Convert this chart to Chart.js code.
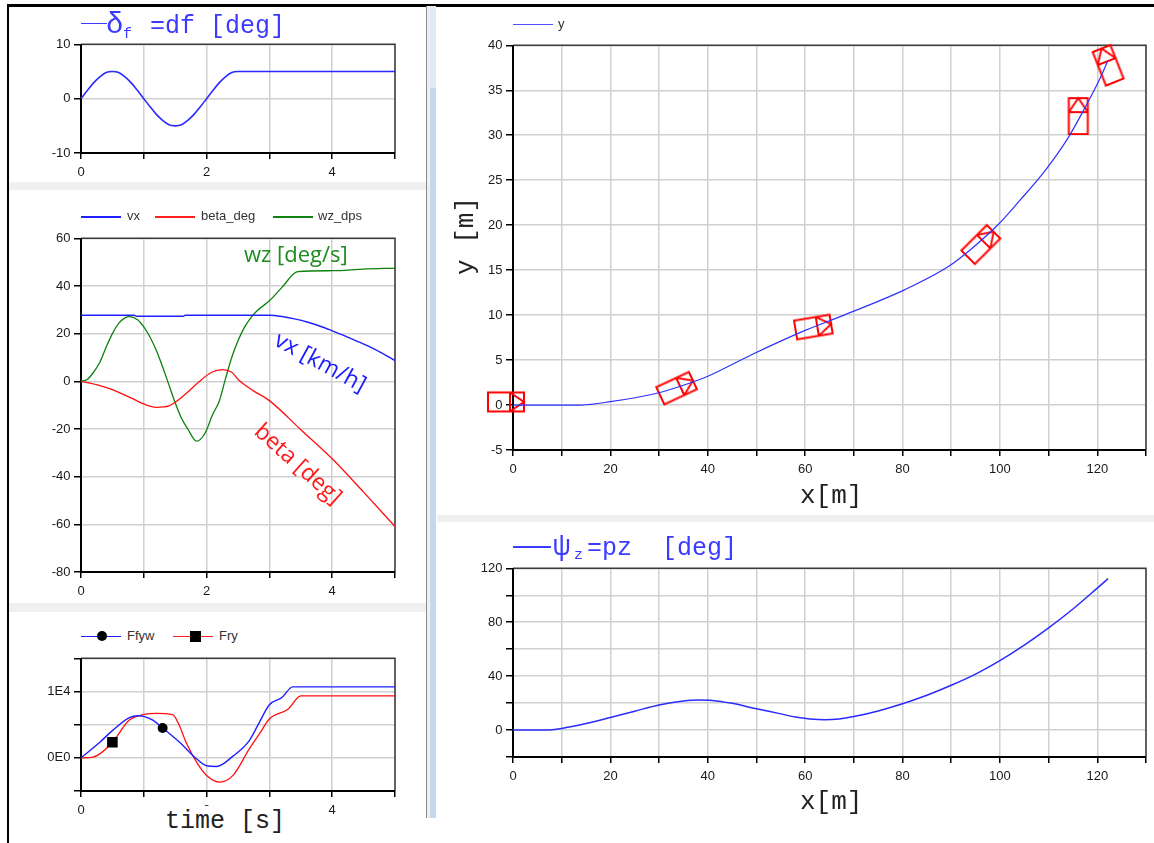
<!DOCTYPE html>
<html><head><meta charset="utf-8">
<script src="https://cdn.jsdelivr.net/npm/chart.js@4.4.1/dist/chart.umd.min.js"></script>
<style>
html,body{margin:0;padding:0;background:#fff;}
body{width:1154px;height:843px;overflow:hidden;position:relative;font-family:"Liberation Sans",Arial,sans-serif;}
.a{position:absolute;}
canvas{position:absolute;z-index:1;}
.t{position:absolute;z-index:2;white-space:pre;}
.mono{font-family:"Liberation Mono","Courier New",monospace;}
.lg{font-size:13px;line-height:15px;color:#333;}
.ann{font-family:"Open Sans",sans-serif;line-height:1;transform-origin:center;}
.ln{position:absolute;z-index:2;height:1.6px;}
</style></head><body>
<div class="a" style="left:7px;top:4px;width:2px;height:839px;background:#000"></div>
<div class="a" style="left:7px;top:4px;width:1147px;height:2.5px;background:#000"></div>
<div class="a" style="left:9px;top:182px;width:417px;height:8px;background:#f0f0f0"></div>
<div class="a" style="left:9px;top:603px;width:417px;height:9px;background:#f0f0f0"></div>
<div class="a" style="left:426px;top:6px;width:1px;height:812px;background:#8a8a8a"></div>
<div class="a" style="left:427px;top:6px;width:3px;height:812px;background:#f0f0f0"></div>
<div class="a" style="left:430px;top:6px;width:6px;height:812px;background:#c4d8ef"></div>
<div class="a" style="left:430px;top:6px;width:6px;height:82px;background:#dfeaf6"></div>
<div class="a" style="left:437px;top:515px;width:717px;height:7px;background:#f0f0f0"></div>

<canvas id="c1"></canvas>
<canvas id="c2"></canvas>
<canvas id="c3"></canvas>
<canvas id="c4"></canvas>
<canvas id="c5"></canvas>

<!-- panel 1 title -->
<div class="ln" style="left:81px;top:22.5px;width:26px;background:#3b3bff"></div>
<div class="t mono" style="left:106px;top:10.8px;font-size:29px;line-height:29px;color:#3b3bff">δ</div>
<div class="t mono" style="left:123px;top:26.5px;font-size:15px;line-height:15px;color:#3b3bff">f</div>
<div class="t mono" style="left:150px;top:14px;font-size:25px;line-height:25px;color:#3b3bff">=df [deg]</div>

<!-- panel 2 legend -->
<div class="ln" style="left:81px;top:216px;width:40px;background:#2020ff"></div>
<div class="t lg" style="left:127px;top:208px">vx</div>
<div class="ln" style="left:155px;top:216px;width:40px;background:#ff2020"></div>
<div class="t lg" style="left:201px;top:208px">beta_deg</div>
<div class="ln" style="left:273px;top:216px;width:40px;background:#108010"></div>
<div class="t lg" style="left:318px;top:208px">wz_dps</div>
<div class="t ann" style="left:244px;top:242px;font-size:22px;color:#1e8c1e">wz [deg/s]</div>
<div class="t ann" style="left:321px;top:361px;font-size:23px;color:#1a1aff;transform:translate(-50%,-50%) rotate(28.6deg)">vx [km/h]</div>
<div class="t ann" style="left:299px;top:463px;font-size:23px;color:#ff1a1a;transform:translate(-50%,-50%) rotate(41.8deg)">beta [deg]</div>

<!-- panel 3 legend -->
<div class="ln" style="left:81px;top:635.5px;width:40px;background:#2020ff"></div>
<div class="a" style="z-index:3;left:96.7px;top:631px;width:10px;height:10px;border-radius:50%;background:#000"></div>
<div class="t lg" style="left:127px;top:628px">Ffyw</div>
<div class="ln" style="left:173px;top:635.5px;width:40px;background:#ff2020"></div>
<div class="a" style="z-index:3;left:190px;top:631px;width:10.5px;height:10.5px;background:#000"></div>
<div class="t lg" style="left:219px;top:628px">Fry</div>
<div class="t mono" style="left:160px;top:806px;padding:2.5px 5px 0 5px;height:30px;background:#fff;font-size:25px;line-height:25px;color:#222">time [s]</div>

<!-- right top -->
<div class="ln" style="left:513px;top:23.5px;width:40px;background:#5050ff"></div>
<div class="t lg" style="left:558px;top:16px">y</div>
<div class="t mono" style="left:800px;top:483px;font-size:26px;line-height:26px;color:#222">x[m]</div>
<div class="t mono" style="left:466px;top:236px;font-size:26px;line-height:26px;color:#222;transform:translate(-50%,-50%) rotate(-90deg)">y [m]</div>

<!-- right bottom -->
<div class="ln" style="left:513px;top:546px;width:38px;background:#3b3bff"></div>
<div class="t mono" style="left:553px;top:532.8px;font-size:29px;line-height:29px;color:#3b3bff">ψ</div>
<div class="t mono" style="left:574px;top:548px;font-size:15px;line-height:15px;color:#3b3bff">z</div>
<div class="t mono" style="left:587px;top:536px;font-size:25px;line-height:25px;color:#3b3bff">=pz  [deg]</div>
<div class="t mono" style="left:800px;top:789px;font-size:26px;line-height:26px;color:#222">x[m]</div>

<script>
// ---------- data ----------
// steering angle delta_f [deg] vs time [s]
const dfT = [0,0.1,0.2,0.3,0.4,0.5,0.6,0.7,0.8,0.9,1.0,1.1,1.2,1.3,1.4,1.5,1.6,1.7,1.8,1.9,2.0,2.1,2.2,2.3,2.4,2.5,5.0];
const dfV = [0,1.5,2.9,4.0,4.8,5.0,4.8,4.0,2.9,1.5,0,-1.5,-2.9,-4.0,-4.8,-5.0,-4.8,-4.0,-2.9,-1.5,0,1.5,2.9,4.0,4.8,5.0,5.0];

// vx [km/h]
const vxT = [0,0.85,0.88,1.63,1.66,3.0,3.2,3.4,3.6,3.8,4.0,4.2,4.4,4.6,4.8,5.0];
const vxV = [27.7,27.7,27.3,27.3,27.7,27.7,27.2,26.2,24.9,23.2,21.2,19.1,16.8,14.4,11.7,8.7];
// beta [deg]
const betaT = [0,0.3,0.5,0.83,1.0,1.2,1.4,1.5,1.7,1.87,2.08,2.25,2.4,2.52,2.74,3.0,3.5,4.0,4.5,5.0];
const betaV = [0,-1.8,-3.5,-7.4,-9.5,-10.9,-10.3,-8.8,-4.5,-0.4,3.8,4.9,3.8,0.3,-3.9,-8.1,-20.3,-32.5,-46.5,-60.9];
// wz [deg/s]
const wzT = [0,0.1,0.2,0.3,0.4,0.5,0.6,0.7,0.77,0.9,1.0,1.1,1.2,1.3,1.4,1.5,1.6,1.7,1.84,1.97,2.1,2.2,2.3,2.4,2.5,2.6,2.7,2.8,3.0,3.2,3.45,4.0,4.5,5.0];
const wzV = [0,0.8,3.8,8.0,14.3,20.0,24.3,26.6,27.1,25.8,22.8,18.5,12.9,6.0,-1.5,-9.0,-15.5,-20.0,-25.1,-22.0,-13.7,-8.5,1.0,10.0,17.0,22.5,26.5,29.5,33.8,39.4,46.0,46.4,47.1,47.5];

// tyre forces
const ffywT = [0,0.3,0.5,0.77,0.9,1.0,1.15,1.3,1.57,1.84,2.0,2.16,2.42,2.68,2.84,3.0,3.2,3.37,5.0];
const ffywV = [0,2350,4100,6050,6350,6250,5650,4500,2350,-150,-1200,-1300,250,2600,5350,8000,9100,10700,10700];
const fryT = [0,0.19,0.3,0.5,0.77,0.99,1.2,1.46,1.55,1.68,1.84,2.0,2.21,2.42,2.68,2.84,3.0,3.3,3.5,5.0];
const fryV = [0,100,600,2350,5700,6500,6700,6500,5200,2200,-650,-2650,-3650,-2650,1350,3600,5850,7350,9350,9350];
const FFYW_MARK = 7;   // index of the circle marker on Ffyw
const FRY_MARK = 3;    // index of the square marker on Fry

// trajectory y vs x [m]
const trajX = [0,14,20,30,35,40,49,60,68,80.6,89.4,94,99.7,104,109.2,114,117.4,120.1,122.2];
const trajY = [0,0,0.37,1.37,2.2,3.2,5.6,8.3,10,12.86,15.4,17.3,20.1,22.7,26.0,29.7,33.0,35.8,38.3];
// car snapshots (position [m], heading [deg])
const carX = [0,34.9,63.1,97.1,116.1,121.7];
const carY = [0.35,2.2,8.8,18.4,32.9,38.5];
const carHeading = [0,25,9.5,45,90,111.5];

// yaw angle psi [deg] vs x [m]
const psiX = [0,6.7,10,15,20,25,30,35,38,41,45,50,55,58,61,64,67,70,75,80,85,90,95,100,105,110,115,120,122.2];
const psiV = [0,0,1.2,4.8,9.3,14.0,18.6,21.5,22.3,22.0,19.8,15.8,12.0,9.6,8.2,7.6,8.2,10.0,14.2,19.5,25.8,33.2,41.5,51.5,63.0,75.8,89.8,105.3,112.3];

// ticks
const timeTicks = [0,1,2,3,4,5];
const timeLabels = ['0','','2','','4',''];
const dfYTicks = [-10,0,10];
const dfYLabels = ['-10','0','10'];
const motYTicks = [-80,-60,-40,-20,0,20,40,60];
const motYLabels = ['-80','-60','-40','-20','0','20','40','60'];
const forceYTicks = [-5000,0,5000,10000,15000];
const forceYLabels = ['','0E0','','1E4',''];
const posXTicks = [0,10,20,30,40,50,60,70,80,90,100,110,120,130];
const posXLabels = ['0','','20','','40','','60','','80','','100','','120',''];
const posYTicks = [-5,0,5,10,15,20,25,30,35,40];
const posYLabels = ['-5','0','5','10','15','20','25','30','35','40'];
const psiYTicks = [-20,0,20,40,60,80,100,120];
const psiYLabels = ['','0','','40','','80','','120'];

// ---------- helpers ----------
const pts = (xs, ys) => xs.map((x, i) => ({x, y: ys[i]}));
const GRID = '#d0d0d0';
const BLUE = '#2020ff', RED = '#ff1010', GREEN = '#0c820c';

const framePlugin = {
  id: 'frame',
  beforeDatasetsDraw(c) {
    const a = c.chartArea, g = c.ctx;
    g.save();
    g.lineWidth = 1.5; g.strokeStyle = '#3a3a3a';
    g.beginPath();
    g.moveTo(a.left, a.top); g.lineTo(a.right, a.top); g.lineTo(a.right, a.bottom);
    g.stroke();
    g.lineWidth = 2; g.strokeStyle = '#000';
    g.beginPath();
    g.moveTo(a.left, a.top); g.lineTo(a.left, a.bottom); g.lineTo(a.right, a.bottom);
    g.stroke();
    g.restore();
  }
};

function axis(ticks, labels, isX, fit) {
  return {
    type: 'linear',
    min: ticks[0], max: ticks[ticks.length - 1],
    afterBuildTicks: s => { s.ticks = ticks.map(v => ({value: v})); },
    afterFit: s => { if (isX) s.height = fit; else s.width = fit; },
    ticks: {autoSkip: false, maxRotation: 0, minRotation: 0, padding: isX ? 6 : 3.5,
            color: '#1a1a1a', font: {size: 13}, callback: (v, i) => labels[i]},
    grid: {color: GRID, lineWidth: 1.5, drawTicks: true, tickLength: isX ? 6 : 7,
           tickColor: '#000', tickWidth: 1.5},
    border: {display: false}
  };
}

function makeChart(id, plot, m, datasets, xt, xl, yt, yl) {
  const cv = document.getElementById(id);
  const L = plot[0] - m[0], T = plot[1] - m[1];
  const W = plot[2] + m[2] - L, H = plot[3] + m[3] - T;
  cv.width = W; cv.height = H;
  cv.style.left = L + 'px'; cv.style.top = T + 'px';
  cv.style.width = W + 'px'; cv.style.height = H + 'px';
  return new Chart(cv, {
    type: 'line',
    data: {datasets},
    options: {
      responsive: false, animation: false, devicePixelRatio: 1, events: [],
      layout: {padding: {left: 0, top: m[1], right: m[2], bottom: 0}},
      plugins: {legend: {display: false}, tooltip: {enabled: false}},
      elements: {point: {radius: 0}, line: {borderWidth: 1.3, cubicInterpolationMode: 'monotone'}},
      scales: {x: axis(xt, xl, true, m[3]), y: axis(yt, yl, false, m[0])}
    },
    plugins: [framePlugin]
  });
}

function carGlyph() {
  const c = document.createElement('canvas');
  c.width = 52; c.height = 24;
  const g = c.getContext('2d');
  g.strokeStyle = '#ff0000'; g.lineWidth = 2;
  const cx = 26, cy = 12;
  g.strokeRect(cx - 25, cy - 9.5, 36, 19);
  g.beginPath(); g.moveTo(cx - 3, cy - 9.5); g.lineTo(cx - 3, cy + 9.5); g.stroke();
  g.beginPath(); g.moveTo(cx - 3, cy - 9.5); g.lineTo(cx + 11, cy); g.lineTo(cx - 3, cy + 9.5); g.stroke();
  return c;
}

const M_LEFT = [70, 10, 12, 32];
const M_RIGHT = [70, 10, 4, 32];

makeChart('c1', [81, 43, 395, 153], M_LEFT,
  [{data: pts(dfT, dfV), borderColor: '#2b2bff', borderWidth: 1.6}],
  timeTicks, timeLabels, dfYTicks, dfYLabels);

makeChart('c2', [81, 237, 395, 572], M_LEFT,
  [{data: pts(vxT, vxV), borderColor: BLUE, borderWidth: 1.4},
   {data: pts(betaT, betaV), borderColor: RED, borderWidth: 1.3},
   {data: pts(wzT, wzV), borderColor: GREEN, borderWidth: 1.3}],
  timeTicks, timeLabels, motYTicks, motYLabels);

makeChart('c3', [81, 657, 395, 791], M_LEFT,
  [{data: pts(ffywT, ffywV), borderColor: BLUE, borderWidth: 1.4,
    pointRadius: c => c.dataIndex === FFYW_MARK ? 5 : 0, pointStyle: 'circle',
    pointBackgroundColor: '#000', pointBorderColor: '#000', pointBorderWidth: 0},
   {data: pts(fryT, fryV), borderColor: RED, borderWidth: 1.3,
    pointRadius: c => c.dataIndex === FRY_MARK ? 7.5 : 0, pointStyle: 'rect',
    pointBackgroundColor: '#000', pointBorderColor: '#000', pointBorderWidth: 0}],
  timeTicks, timeLabels, forceYTicks, forceYLabels);

const car = carGlyph();
makeChart('c4', [513, 44, 1148, 450], M_RIGHT,
  [{data: pts(trajX, trajY), borderColor: '#3030ff', borderWidth: 1.2},
   {data: pts(carX, carY), showLine: false, clip: false, pointStyle: car, pointRadius: 3,
    pointRotation: c => -carHeading[c.dataIndex]}],
  posXTicks, posXLabels, posYTicks, posYLabels);

makeChart('c5', [513, 567, 1148, 757], M_RIGHT,
  [{data: pts(psiX, psiV), borderColor: '#2b2bff', borderWidth: 1.5}],
  posXTicks, posXLabels, psiYTicks, psiYLabels);
</script>
</body></html>
